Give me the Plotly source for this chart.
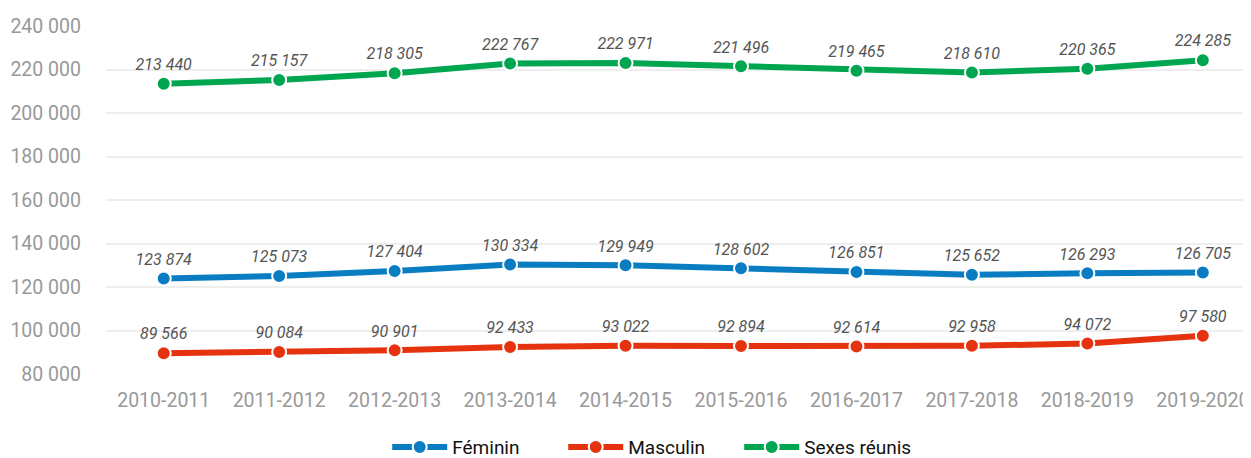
import plotly.graph_objects as go

years = ["2010-2011", "2011-2012", "2012-2013", "2013-2014", "2014-2015",
         "2015-2016", "2016-2017", "2017-2018", "2018-2019", "2019-2020"]
feminin = [123874, 125073, 127404, 130334, 129949, 128602, 126851, 125652, 126293, 126705]
masculin = [89566, 90084, 90901, 92433, 93022, 92894, 92614, 92958, 94072, 97580]
reunis = [213440, 215157, 218305, 222767, 222971, 221496, 219465, 218610, 220365, 224285]

series = [("Féminin", feminin, "#0a7dc2"),
          ("Masculin", masculin, "#e5330f"),
          ("Sexes réunis", reunis, "#00a550")]

fig = go.Figure()
for name, vals, color in series:
    fig.add_trace(go.Scatter(
        x=years, y=vals, name=name, mode="lines+markers+text",
        line=dict(color=color, width=6),
        marker=dict(color=color, size=14, line=dict(color="white", width=2)),
        texttemplate="%{y:,d}", textposition="top center",
        textfont=dict(family="Roboto", size=16, color="#555555", style="italic"),
        cliponaxis=False,
    ))

fig.update_layout(
    width=1243, height=450,
    margin=dict(l=98, r=2, t=18, b=84, autoexpand=False),
    paper_bgcolor="white", plot_bgcolor="white",
    separators=", ",
    font=dict(family="Roboto", size=17, color="#999999"),
    showlegend=True,
    legend=dict(orientation="h", x=0.477, xanchor="center", y=-0.21, yanchor="middle",
                font=dict(family="Roboto", size=19, color="#111111"),
                itemwidth=55, entrywidth=106, traceorder="normal"),
    xaxis=dict(range=[-0.5, 9.4], showgrid=False, zeroline=False, showline=False,
               automargin=False,
               ticks="", tickfont=dict(size=19.5, color="#999999"), ticklabelstandoff=12),
    yaxis=dict(range=[80000, 240000], dtick=20000, tickformat=",d", automargin=False,
               showgrid=True, gridcolor="#eeeeee", gridwidth=1.5, zeroline=False,
               showline=False, ticks="", tickfont=dict(size=19.5, color="#999999"),
               ticklabelstandoff=24),
)

fig.write_html("out.html")
